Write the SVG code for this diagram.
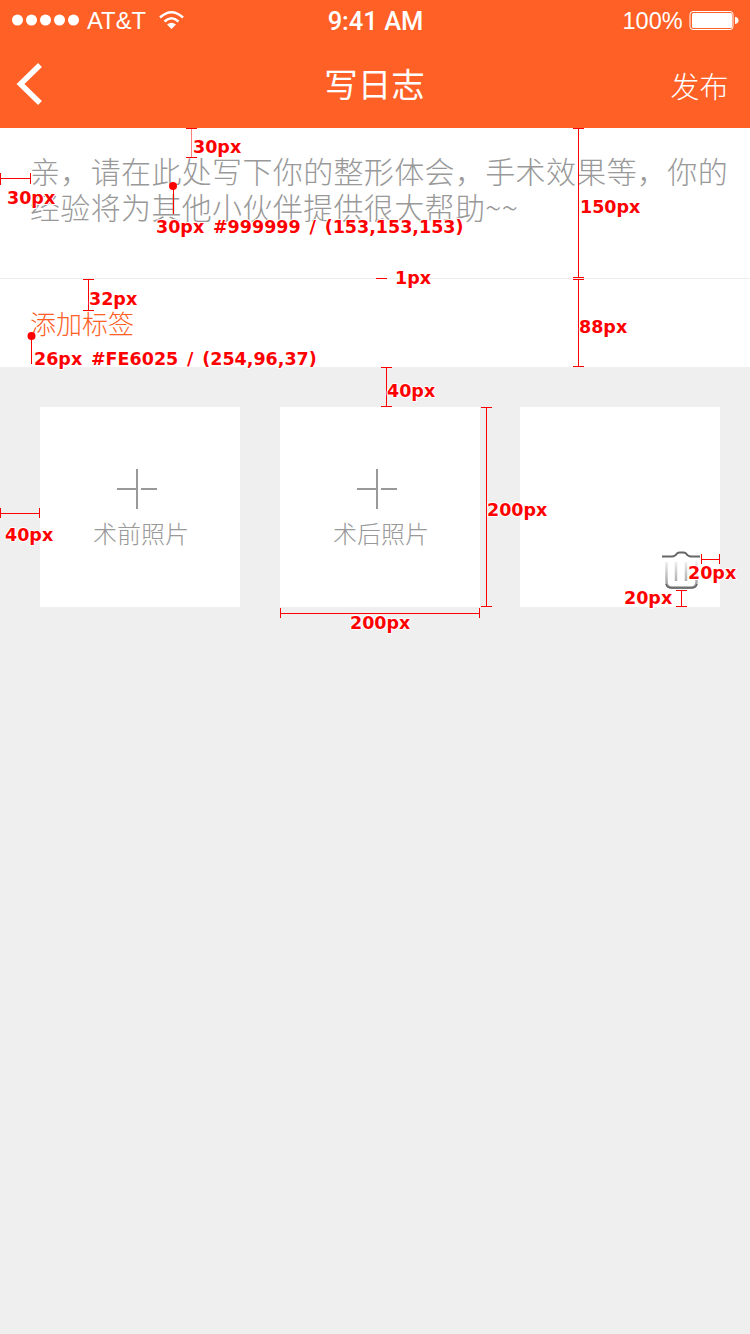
<svg xmlns="http://www.w3.org/2000/svg" width="750" height="1334" viewBox="0 0 750 1334">
<style>
.cjk{font-family:"Noto Sans CJK SC","Noto Sans",sans-serif}
.lat{font-family:"Liberation Sans",Arial,sans-serif;fill:#fff}
.ann{font-family:"DejaVu Sans",sans-serif;font-weight:700;font-size:17.5px;word-spacing:2.700px;fill:#f00;stroke:#fff;stroke-width:2px;paint-order:stroke;stroke-linejoin:round}
.dim{stroke:#f00;stroke-width:1;fill:none}
.gray{fill:#999;font-weight:300}
.plus{stroke:#999;stroke-width:2;fill:none}
.card{fill:#fff}
</style>
<defs>
<linearGradient id="fade" x1="0" y1="0" x2="0" y2="1"><stop offset="0" stop-color="#eee"/><stop offset="1" stop-color="#999"/></linearGradient>
</defs>
<rect width="750" height="1334" fill="#efefef"/>
<g id="nav-bar">
<rect width="750" height="128" fill="#fe6025"/>
<g id="status-bar" fill="#fff">
<circle cx="17.500" cy="20" r="5.500"/><circle cx="31.500" cy="20" r="5.500"/><circle cx="45.500" cy="20" r="5.500"/><circle cx="59.500" cy="20" r="5.500"/><circle cx="73.500" cy="20" r="5.500"/>
<text class="lat" x="87" y="29" font-size="23.800">AT&amp;T</text>
<path d="M160 17.500Q171.500 7 183 17.500" fill="none" stroke="#fff" stroke-width="2.500"/>
<path d="M164.500 21.500Q171.500 15 178.500 21.500" fill="none" stroke="#fff" stroke-width="2.500"/>
<path d="M167 24.500Q171.500 21 176 24.500L171.500 29Z"/>
<text class="lat" x="375.500" y="29.500" font-size="25.500" text-anchor="middle" style="font-weight:500;font-family:Roboto,'Liberation Sans',sans-serif">9:41 AM</text>
<text class="lat" x="622.500" y="29" font-size="23.500">100%</text>
<rect x="690" y="11.500" width="43" height="18" rx="3" fill="none" stroke="#fff"/>
<rect x="692" y="13" width="40" height="15" rx="1.500"/>
<path d="M735 16.800Q738.500 17.500 738.500 20.500Q738.500 23.500 735 24Z"/>
</g>
<path id="back" d="M40 65L20.500 84L40 103" fill="none" stroke="#fff" stroke-width="5.500"/>
<text id="title" class="cjk" x="374.500" y="97" font-size="33.500" fill="#fff" text-anchor="middle">写日志</text>
<text id="publish" class="cjk" x="670.500" y="98" font-size="29" fill="#fff" font-weight="300">发布</text>
</g>
<g id="text-input">
<rect y="128" width="750" height="150" fill="#fff"/>
<text class="cjk gray" x="30" y="183" font-size="30" letter-spacing="0.350">亲，请在此处写下你的整形体会，手术效果等，你的</text>
<text class="cjk gray" x="30" y="219" font-size="30" letter-spacing="0.350">经验将为其他小伙伴提供很大帮助~~</text>
</g>
<g id="tag-row">
<rect y="279" width="750" height="88" fill="#fff"/>
<rect y="278" width="750" height="1" fill="#ececec"/>
<text class="cjk" x="30" y="334" font-size="26" fill="#fe6025" font-weight="300">添加标签</text>
</g>
<g id="photo-before">
<rect class="card" x="40" y="407" width="200" height="200"/>
<path class="plus" d="M117 489H138M141 489H157M137 469V509"/>
<text class="cjk gray" x="141" y="543" font-size="24" text-anchor="middle">术前照片</text>
</g>
<g id="photo-after">
<rect class="card" x="280" y="407" width="200" height="200"/>
<path class="plus" d="M357 489H378M381 489H397M377 469V509"/>
<text class="cjk gray" x="381" y="543" font-size="24" text-anchor="middle">术后照片</text>
</g>
<g id="photo-third">
<rect class="card" x="520" y="407" width="200" height="200"/>
<g id="trash">
<path d="M666.500 562V582Q666.500 587.500 672 587.500H691Q696.500 587.500 696.500 582V562M676 562V581M686 562V581" fill="none" stroke="url(#fade)" stroke-width="2.500"/>
<path d="M666 584Q667 588 672 588H691Q696 588 697 584" fill="none" stroke="#666" stroke-width="1.500"/>
<path d="M662 556.500H672Q675 556.500 677 553.500Q678 552.500 680 552.500H683Q685 552.500 686 553.500Q688 556.500 691 556.500H700" fill="none" stroke="#666" stroke-width="2"/>
</g>
</g>
<g id="annotations">
<g id="connectors">
<path class="dim" style="opacity:.5" d="M191.500 128V157"/>
<path class="dim" d="M186 128.500H197M186 157.500H197"/>
<path class="dim" d="M.5 173V185M.5 178.500H30.500M30.500 173V184"/>
<path class="dim" d="M173.500 186V214"/>
<path class="dim" d="M88.500 279V310M83 279.500H94M83 310.500H94"/>
<path class="dim" d="M31.500 336V364"/>
<path class="dim" d="M376 278.500H387"/>
<path class="dim" d="M578.500 128V278M573 128.500H584M573 277.500H584M573 279.500H584M578.500 279V367M573 366.500H584"/>
<path class="dim" d="M386.500 367V406M381 367.500H392M381 406.500H392"/>
<path class="dim" d="M.5 508V518M.5 513.500H39.500M39.500 508V518"/>
<path class="dim" d="M486.500 407V606M481 407.500H492M481 606.500H492"/>
<path class="dim" d="M280.500 608V618M280.500 613.500H479.500M479.500 608V618"/>
<path class="dim" d="M701.500 554V564M701.500 559.500H719.500M719.500 554V564"/>
<path class="dim" d="M681.500 590V606M676 590.500H687M676 606.500H687"/>
</g>
<circle cx="173" cy="186" r="4" fill="#f00"/>
<circle cx="31.500" cy="336" r="4" fill="#f00"/>
<text class="ann" x="193" y="153">30px</text>
<text class="ann" x="7" y="204">30px</text>
<text class="ann" x="156" y="233">30px #999999 / (153,153,153)</text>
<text class="ann" x="89" y="305">32px</text>
<text class="ann" x="34" y="365">26px #FE6025 / (254,96,37)</text>
<text class="ann" x="395" y="284">1px</text>
<text class="ann" x="580" y="213">150px</text>
<text class="ann" x="579" y="333">88px</text>
<text class="ann" x="387" y="397">40px</text>
<text class="ann" x="5" y="541">40px</text>
<text class="ann" x="487" y="516">200px</text>
<text class="ann" x="350" y="629">200px</text>
<text class="ann" x="688" y="579">20px</text>
<text class="ann" x="624" y="604">20px</text>
</g>
</svg>
